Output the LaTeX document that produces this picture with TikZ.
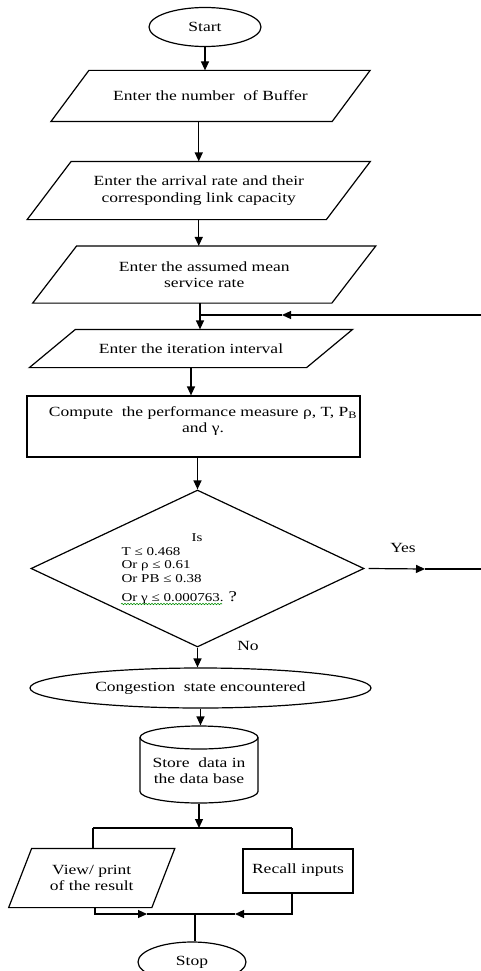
\documentclass[tikz,border=0pt]{standalone}
\usepackage{fontspec}
\setmainfont[FakeStretch=1.25]{Liberation Serif}
\usetikzlibrary{arrows.meta,shapes.geometric,decorations.pathmorphing}
\newcommand\drawplg[2]{%
  \draw ([xshift=#2pt]#1.north west) -- ([xshift=#2pt]#1.north east)
        -- ([xshift=-#2pt]#1.south east) -- ([xshift=-#2pt]#1.south west) -- cycle;}
\begin{document}
\begin{tikzpicture}[x=1pt,y=-1pt,line width=1.2pt,
  arr/.style={-{Triangle[length=9pt,width=8pt]}},
  txt/.style={font=\fontsize{14}{16.5}\selectfont,align=center,inner sep=0pt},
  smalltxt/.style={font=\fontsize{12}{13.5}\selectfont,inner sep=0pt},
  term/.style={ellipse,draw,inner sep=0pt},
  box/.style={draw,rectangle,inner sep=0pt},
  pbox/.style={rectangle,inner sep=0pt,draw=none},
  squiggle/.style={draw=green!55!black,line width=0.6pt,decorate,
     decoration={snake,amplitude=0.7pt,segment length=3pt}}]
\useasboundingbox (0,0) rectangle (481,971);
\clip (0,0) rectangle (481,971);

% Start
\node[term,minimum width=112,minimum height=39,txt] (start) at (205,27) {Start};

% Inputs
\node[pbox,minimum width=280,minimum height=50,txt] (p1) at (210.5,96) {Enter the number\ \ of Buffer};
\drawplg{p1}{19}
\node[pbox,minimum width=298,minimum height=57,txt] (p2) at (198.75,190.5) {Enter the arrival rate and their\\corresponding link capacity};
\drawplg{p2}{22}
\node[pbox,minimum width=298,minimum height=56,txt] (p3) at (204.25,274.5) {Enter the assumed mean\\service rate};
\drawplg{p3}{22}
\node[pbox,minimum width=276,minimum height=37,txt] (p4) at (191,348.5) {Enter the iteration interval};
\drawplg{p4}{23}

% Compute
\node[box,minimum width=333,minimum height=61] (cmp) at (193.5,426.5) {};
\node[txt] (cmpt) at (203,421) {Compute\ \ the performance measure ρ, T, P\textsubscript{B}\\and γ.};

% Decision
\node[diamond,draw,minimum width=333,minimum height=157,inner sep=0pt] (dec) at (197.5,568.5) {};
\node[smalltxt] (dis) at (197,538) {Is};
\node[smalltxt,anchor=west] (d1) at (121,552) {T ≤ 0.468};
\node[smalltxt,anchor=west] (d2) at (121,566) {Or ρ ≤ 0.61};
\node[smalltxt,anchor=west] (d3) at (121,579) {Or PB ≤ 0.38};
\node[smalltxt,anchor=west] (d4) at (121,598) {Or γ ≤ 0.000763. {\fontsize{15}{15}\selectfont ?}};
\coordinate (sqL) at (121,604);
\coordinate (sqR) at (222,604);
\path[squiggle] (sqL) -- (sqR);

\node[txt] (yes) at (403,548) {Yes};
\node[txt] (no) at (248,646) {No};

% Congestion
\node[term,minimum width=341,minimum height=40,txt] (cong) at (200.5,688) {Congestion\ \ state encountered};

% Database cylinder
\node[pbox,minimum width=118,minimum height=77] (cyl) at (199,764.5) {};
\draw (199,737.5) ellipse [x radius=59pt,y radius=11.5pt];
\draw (140,737.5) -- (140,791.5) arc[start angle=180,end angle=360,x radius=59pt,y radius=11.5pt] -- (258,737.5);
\node[txt] (cylt) at (199,770.5) {Store\ \ data in\\the data base};

% Outputs
\node[pbox,minimum width=142,minimum height=58,txt] (view) at (91.75,878) {View/ print\\of the result};
\drawplg{view}{11.5}
\node[box,minimum width=110,minimum height=44,txt] (rec) at (298,871) {\raisebox{5pt}{Recall inputs}};

% Stop
\node[term,minimum width=108,minimum height=40,txt] (stop) at (192,962) {Stop};

% Coordinates
\coordinate (fbR) at (481,315);
\coordinate (fbA) at (282,315);
\coordinate (fbL) at (200,315);
\coordinate (yesA) at (425,569);
\coordinate (yesE) at (481,569);
\coordinate (br) at (199,828);
\coordinate (brL) at (93,828);
\coordinate (brR) at (292,828);
\coordinate (mL) at (95,914);
\coordinate (mLa) at (147,914);
\coordinate (mC) at (195,914);
\coordinate (mRa) at (235,914);
\coordinate (mR) at (292,914);

% Connectors
\draw[arr] (start.south) -- (start.south |- p1.north);
\draw[arr] (p2 |- p1.south) -- (p2.north);
\draw[arr] (p2.south) -- (p2.south |- p3.north);
\draw[arr] (fbL |- p3.south) -- (fbL |- p4.north);
\draw[arr] (fbR) -- (fbA);
\draw (fbA) -- (fbL);
\draw[arr] (p4.south) -- (p4.south |- cmp.north);
\draw[arr] (cmp.south -| dec.north) -- (dec.north);
\draw[arr] ([xshift=4pt]dec.east) -- (yesA);
\draw (yesA) -- (yesE);
\draw[arr] (dec.south) -- (dec.south |- cong.north);
\draw[arr] (cong.south) -- (cong.south |- cyl.north);
\draw[arr] (cyl.south) -- (br);
\draw (brL) -- (brR);
\draw (brL) -- (brL |- view.north);
\draw (brR) -- (brR |- rec.north);
\draw[arr] (mL |- view.south) -- (mL) -- (mLa);
\draw (mLa) -- (mC);
\draw[arr] (mR |- rec.south) -- (mR) -- (mRa);
\draw (mRa) -- (mC);
\draw (mC) -- (mC |- stop.north);
\end{tikzpicture}
\end{document}
